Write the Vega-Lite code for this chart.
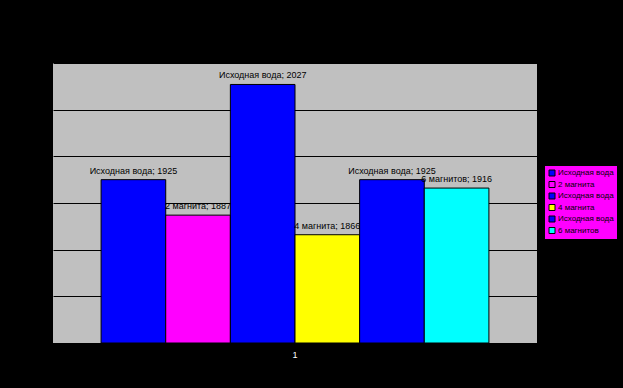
{
  "$schema": "https://vega.github.io/schema/vega-lite/v6.json",
  "width": 484,
  "height": 280,
  "autosize": "none",
  "padding": {"left": 53, "top": 63, "right": 86, "bottom": 45},
  "background": "black",
  "config": {
    "view": {"fill": "#C0C0C0", "stroke": null},
    "font": "Liberation Sans"
  },
  "data": {
    "values": [
      {"cat": "1", "s": "s1", "label": "Исходная вода; 1925", "value": 1925},
      {"cat": "1", "s": "s2", "label": "2 магнита; 1887", "value": 1887},
      {"cat": "1", "s": "s3", "label": "Исходная вода; 2027", "value": 2027},
      {"cat": "1", "s": "s4", "label": "4 магнита; 1866", "value": 1866},
      {"cat": "1", "s": "s5", "label": "Исходная вода; 1925", "value": 1925},
      {"cat": "1", "s": "s6", "label": "6 магнитов; 1916", "value": 1916}
    ]
  },
  "encoding": {
    "x": {
      "field": "cat",
      "type": "nominal",
      "scale": {"paddingInner": 0, "paddingOuter": 0.124},
      "axis": {"title": null, "labelAngle": 0, "labelColor": "white", "labelFontSize": 9, "ticks": false, "domain": false, "labelPadding": 7}
    },
    "xOffset": {"field": "s", "type": "nominal", "scale": {"paddingInner": 0, "paddingOuter": 0}},
    "y": {
      "field": "value",
      "type": "quantitative",
      "scale": {"domain": [1750, 2050], "zero": false, "nice": false},
      "axis": {"title": null, "values": [1750, 1800, 1850, 1900, 1950, 2000, 2050], "gridColor": "black", "gridOpacity": 1, "labelColor": "black", "domain": false, "ticks": false}
    }
  },
  "layer": [
    {
      "mark": {"type": "bar", "stroke": "black", "strokeWidth": 1, "opacity": 1},
      "encoding": {
        "y2": {"datum": 1750},
        "color": {
          "field": "s",
          "type": "nominal",
          "scale": {"domain": ["s1", "s2", "s3", "s4", "s5", "s6"], "range": ["#0000FF", "#FF00FF", "#0000FF", "#FFFF00", "#0000FF", "#00FFFF"]},
          "legend": {
            "title": null,
            "orient": "none",
            "legendX": 492,
            "legendY": 103,
            "fillColor": "#FF00FF",
            "padding": 3,
            "symbolType": "square",
            "symbolSize": 36,
            "symbolStrokeColor": "black",
            "symbolStrokeWidth": 1,
            "symbolOpacity": 1,
            "labelFontSize": 8,
            "labelColor": "black",
            "labelOffset": 2,
            "rowPadding": 1.5,
            "labelExpr": "datum.value=='s2'?'2 магнита':datum.value=='s4'?'4 магнита':datum.value=='s6'?'6 магнитов':'Исходная вода'"
          }
        }
      }
    },
    {
      "mark": {"type": "text", "baseline": "bottom", "dy": -4, "fontSize": 9, "color": "black"},
      "encoding": {"text": {"field": "label"}}
    }
  ]
}
